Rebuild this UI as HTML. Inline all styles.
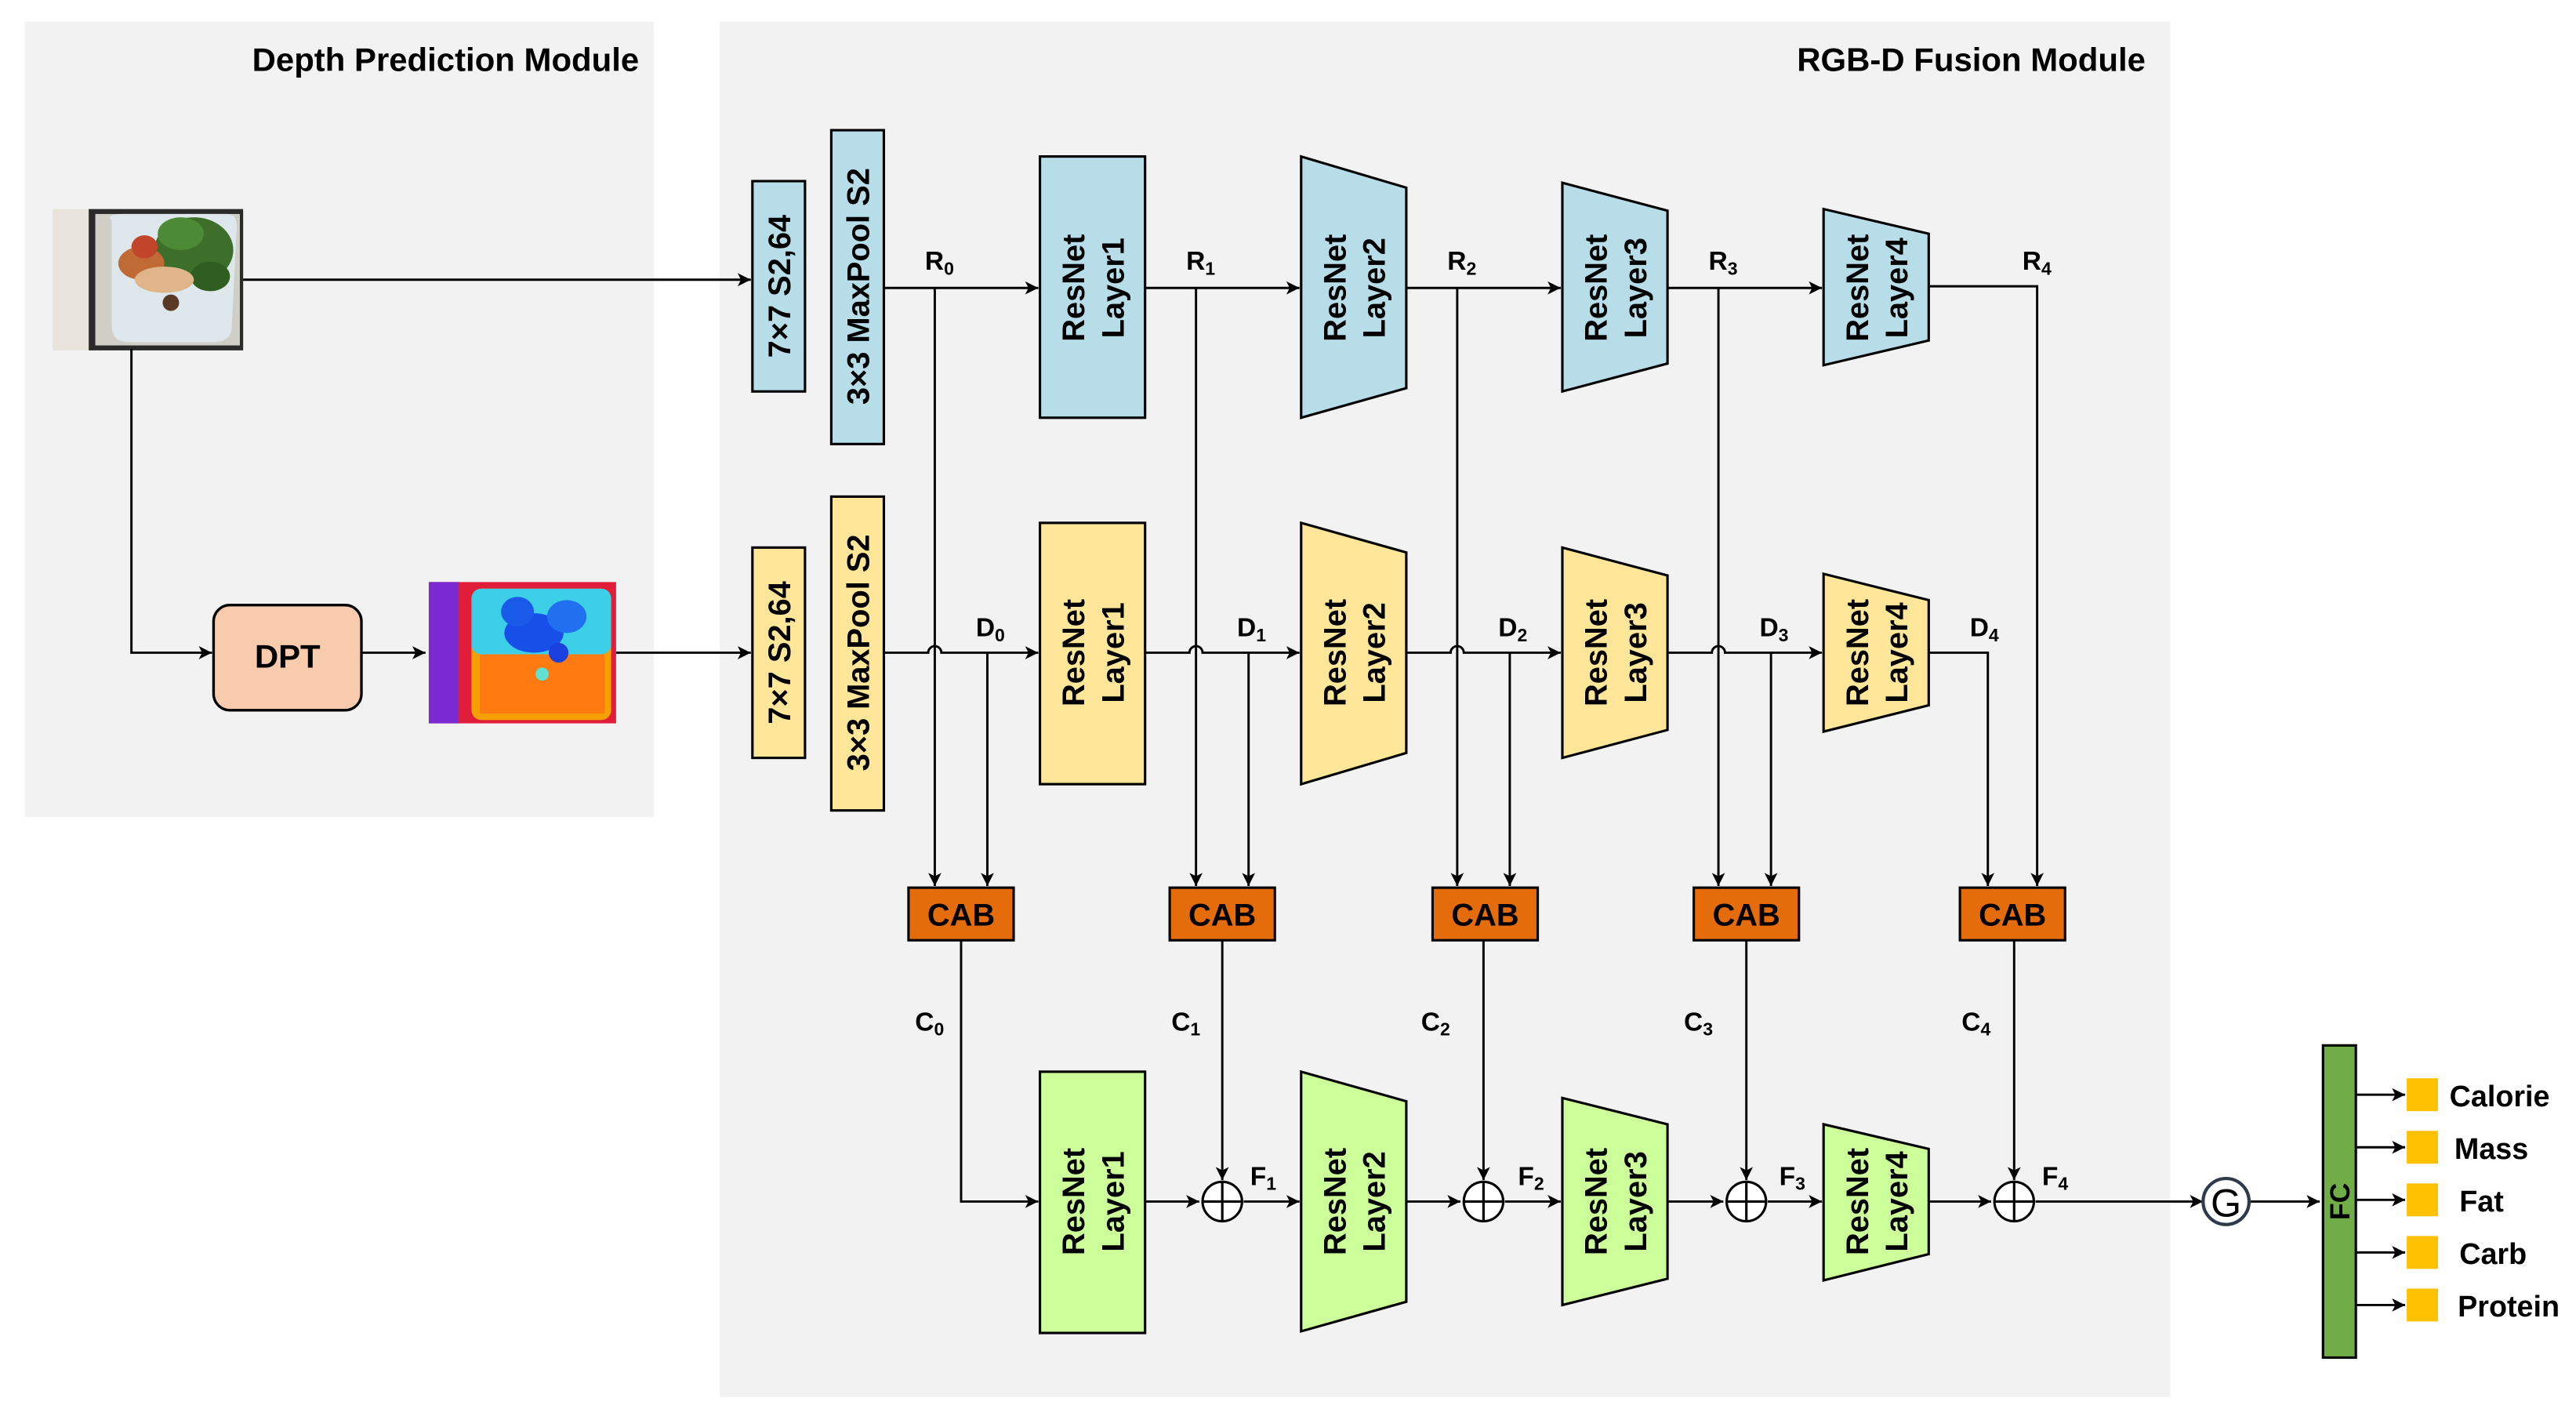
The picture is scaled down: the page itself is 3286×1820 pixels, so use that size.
<!DOCTYPE html>
<html><head><meta charset="utf-8"><style>
html,body{margin:0;padding:0;background:#fff;}
svg{display:block;}
text{font-family:"Liberation Sans","DejaVu Sans",sans-serif;font-weight:bold;fill:#000;}
</style></head><body>
<svg width="3286" height="1820" viewBox="0 0 1568 868" xmlns="http://www.w3.org/2000/svg">
<defs>
<marker id="a" viewBox="0 0 10 10" refX="10" refY="5" markerWidth="8" markerHeight="8" markerUnits="userSpaceOnUse" orient="auto"><path d="M0,0 L10,5 L0,10 L2.5,5 z" fill="#000"/></marker>
<marker id="b" viewBox="0 0 10 10" refX="10" refY="5" markerWidth="10" markerHeight="10" markerUnits="userSpaceOnUse" orient="auto"><path d="M0,0 L10,5 L0,10 L2.5,5 z" fill="#000"/></marker>
</defs>
<rect width="1568" height="868" fill="#fff"/>
<rect x="15" y="13" width="383" height="484" fill="#f2f2f2"/>
<rect x="438" y="13" width="883" height="837" fill="#f2f2f2"/>
<text x="389" y="43" font-size="20" text-anchor="end">Depth Prediction Module</text>
<text x="1306" y="43" font-size="20" text-anchor="end">RGB-D Fusion Module</text>

<!-- food image -->
<g>
<rect x="32" y="127" width="116" height="86" fill="#e8e4dc"/>
<rect x="54" y="127" width="94" height="86" fill="#2a2a2a"/>
<rect x="58" y="130" width="88" height="80" fill="#cfcfc8"/>
<path d="M68,134 Q64,130 75,130 L138,130 Q145,130 144,140 L141,200 Q140,208 130,208 L78,208 Q68,208 68,198 Z" fill="#dde7ec"/>
<ellipse cx="118" cy="152" rx="24" ry="20" fill="#3d6e2a"/>
<ellipse cx="110" cy="142" rx="14" ry="10" fill="#4d8a35"/>
<ellipse cx="128" cy="168" rx="12" ry="9" fill="#2f5e20"/>
<ellipse cx="86" cy="160" rx="14" ry="10" fill="#c06a35"/>
<ellipse cx="100" cy="170" rx="18" ry="8" fill="#e0b58a"/>
<ellipse cx="88" cy="150" rx="8" ry="7" fill="#c0452a"/>
<circle cx="104" cy="184" r="5" fill="#5a3a25"/>
</g>
<!-- depth image -->
<g>
<rect x="261" y="354" width="114" height="86" fill="#e01e3a"/>
<rect x="261" y="354" width="18" height="86" fill="#7a2ad0"/>
<rect x="287" y="358" width="85" height="80" rx="6" fill="#f5a000"/>
<rect x="287" y="358" width="85" height="40" rx="6" fill="#3ecfe8"/>
<rect x="292" y="398" width="76" height="36" fill="#ff7a10"/>
<ellipse cx="325" cy="385" rx="18" ry="12" fill="#1650e8"/>
<ellipse cx="315" cy="372" rx="10" ry="9" fill="#1a5ae8"/>
<ellipse cx="345" cy="375" rx="12" ry="10" fill="#2070f0"/>
<circle cx="340" cy="397" r="6" fill="#1a40e0"/>
<circle cx="330" cy="410" r="4" fill="#60e0d0"/>
</g>

<g stroke="#000" stroke-width="1.4" fill="none">
<!-- left connections -->
<path d="M148,170 H457" marker-end="url(#a)"/>
<path d="M80,212 V397 H129" marker-end="url(#a)"/>
<path d="M220,397 H259" marker-end="url(#a)"/>
<path d="M375,397 H457" marker-end="url(#a)"/>
<!-- R row -->
<path d="M538,175 H632" marker-end="url(#a)"/>
<path d="M697,175 H791" marker-end="url(#a)"/>
<path d="M856,175 H950" marker-end="url(#a)"/>
<path d="M1015,175 H1109" marker-end="url(#a)"/>
<path d="M1174,174 H1240 V539" marker-end="url(#a)"/>
<path d="M569,175 V539" marker-end="url(#a)"/>
<path d="M728,175 V539" marker-end="url(#a)"/>
<path d="M887,175 V539" marker-end="url(#a)"/>
<path d="M1046,175 V539" marker-end="url(#a)"/>
<!-- D row with hops -->
<path d="M538,397 H565 A4,4 0 0 1 573,397 H632" marker-end="url(#a)"/>
<path d="M697,397 H724 A4,4 0 0 1 732,397 H791" marker-end="url(#a)"/>
<path d="M856,397 H883 A4,4 0 0 1 891,397 H950" marker-end="url(#a)"/>
<path d="M1015,397 H1042 A4,4 0 0 1 1050,397 H1109" marker-end="url(#a)"/>
<path d="M1174,397 H1210 V539" marker-end="url(#a)"/>
<path d="M601,397 V539" marker-end="url(#a)"/>
<path d="M760,397 V539" marker-end="url(#a)"/>
<path d="M919,397 V539" marker-end="url(#a)"/>
<path d="M1078,397 V539" marker-end="url(#a)"/>
<!-- bottom row -->
<path d="M585,572 V731 H632" marker-end="url(#a)"/>
<path d="M744,572 V718" marker-end="url(#a)"/>
<path d="M903,572 V718" marker-end="url(#a)"/>
<path d="M1063,572 V718" marker-end="url(#a)"/>
<path d="M1226,572 V718" marker-end="url(#a)"/>
<path d="M697,731 H730" marker-end="url(#a)"/>
<path d="M757,731 H791" marker-end="url(#a)"/>
<path d="M856,731 H889" marker-end="url(#a)"/>
<path d="M916,731 H950" marker-end="url(#a)"/>
<path d="M1015,731 H1049" marker-end="url(#a)"/>
<path d="M1076,731 H1109" marker-end="url(#a)"/>
<path d="M1174,731 H1212" marker-end="url(#a)"/>
<path d="M1239,731 H1341" marker-end="url(#a)"/>
<path d="M1369,731 H1412" marker-end="url(#a)"/>
<path d="M1434,666 H1464" marker-end="url(#a)"/>
<path d="M1434,698 H1464" marker-end="url(#a)"/>
<path d="M1434,730 H1464" marker-end="url(#a)"/>
<path d="M1434,762 H1464" marker-end="url(#a)"/>
<path d="M1434,794 H1464" marker-end="url(#a)"/>
</g>

<!-- DPT -->
<rect x="130" y="368" width="90" height="64" rx="10" fill="#f8cbad" stroke="#000" stroke-width="1.6"/>
<text x="175" y="406" font-size="20" text-anchor="middle">DPT</text>

<g stroke="#000" stroke-width="1.5">
<!-- stem blocks -->
<rect x="458" y="110" width="32" height="128" fill="#b7dde8"/>
<rect x="506" y="79" width="32" height="191" fill="#b7dde8"/>
<rect x="458" y="333" width="32" height="128" fill="#ffe699"/>
<rect x="506" y="302" width="32" height="191" fill="#ffe699"/>
<!-- top row -->
<rect x="633" y="95" width="64" height="159" fill="#b7dde8"/>
<path d="M792,95 L856,114 L856,236 L792,254 Z" fill="#b7dde8"/>
<path d="M951,111 L1015,128 L1015,221 L951,238 Z" fill="#b7dde8"/>
<path d="M1110,127 L1174,142 L1174,207 L1110,222 Z" fill="#b7dde8"/>
<!-- mid row -->
<rect x="633" y="318" width="64" height="159" fill="#ffe699"/>
<path d="M792,318 L856,336 L856,458 L792,477 Z" fill="#ffe699"/>
<path d="M951,333 L1015,350 L1015,444 L951,461 Z" fill="#ffe699"/>
<path d="M1110,349 L1174,365 L1174,429 L1110,445 Z" fill="#ffe699"/>
<!-- bottom row -->
<rect x="633" y="652" width="64" height="159" fill="#ccff99"/>
<path d="M792,652 L856,670 L856,792 L792,810 Z" fill="#ccff99"/>
<path d="M951,668 L1015,684 L1015,778 L951,794 Z" fill="#ccff99"/>
<path d="M1110,684 L1174,699 L1174,763 L1110,779 Z" fill="#ccff99"/>
<!-- CABs -->
<rect x="553" y="540" width="64" height="32" fill="#e46c0a"/>
<rect x="712" y="540" width="64" height="32" fill="#e46c0a"/>
<rect x="872" y="540" width="64" height="32" fill="#e46c0a"/>
<rect x="1031" y="540" width="64" height="32" fill="#e46c0a"/>
<rect x="1193" y="540" width="64" height="32" fill="#e46c0a"/>
<!-- FC -->
<rect x="1414" y="636" width="20" height="190" fill="#70ad47"/>
</g>
<g fill="#ffc000">
<rect x="1465" y="656" width="19" height="20"/>
<rect x="1465" y="688" width="19" height="20"/>
<rect x="1465" y="720" width="19" height="20"/>
<rect x="1465" y="752" width="19" height="20"/>
<rect x="1465" y="784" width="19" height="20"/>
</g>
<!-- oplus -->
<g stroke="#000" stroke-width="1.5" fill="#fff">
<circle cx="744" cy="731" r="12"/><path d="M732,731H756M744,719V743"/>
<circle cx="903" cy="731" r="12"/><path d="M891,731H915M903,719V743"/>
<circle cx="1063" cy="731" r="12"/><path d="M1051,731H1075M1063,719V743"/>
<circle cx="1226" cy="731" r="12"/><path d="M1214,731H1238M1226,719V743"/>
</g>
<circle cx="1355" cy="731" r="14" fill="#fff" stroke="#2f3a4a" stroke-width="2"/>
<text x="1355" y="740" font-size="24" font-weight="normal" style="font-weight:normal" text-anchor="middle">G</text>

<!-- vertical texts -->
<g font-size="19">
<text transform="translate(481,174) rotate(-90)" text-anchor="middle">7×7 S2,64</text>
<text transform="translate(529,174) rotate(-90)" text-anchor="middle">3×3 MaxPool S2</text>
<text transform="translate(481,397) rotate(-90)" text-anchor="middle">7×7 S2,64</text>
<text transform="translate(529,397) rotate(-90)" text-anchor="middle">3×3 MaxPool S2</text>
</g>
<g font-size="19" text-anchor="middle">
<text transform="translate(665,175) rotate(-90)"><tspan x="0" y="-5">ResNet</tspan><tspan x="0" y="19">Layer1</tspan></text>
<text transform="translate(824,175) rotate(-90)"><tspan x="0" y="-5">ResNet</tspan><tspan x="0" y="19">Layer2</tspan></text>
<text transform="translate(983,175) rotate(-90)"><tspan x="0" y="-5">ResNet</tspan><tspan x="0" y="19">Layer3</tspan></text>
<text transform="translate(1142,175) rotate(-90)"><tspan x="0" y="-5">ResNet</tspan><tspan x="0" y="19">Layer4</tspan></text>
<text transform="translate(665,397) rotate(-90)"><tspan x="0" y="-5">ResNet</tspan><tspan x="0" y="19">Layer1</tspan></text>
<text transform="translate(824,397) rotate(-90)"><tspan x="0" y="-5">ResNet</tspan><tspan x="0" y="19">Layer2</tspan></text>
<text transform="translate(983,397) rotate(-90)"><tspan x="0" y="-5">ResNet</tspan><tspan x="0" y="19">Layer3</tspan></text>
<text transform="translate(1142,397) rotate(-90)"><tspan x="0" y="-5">ResNet</tspan><tspan x="0" y="19">Layer4</tspan></text>
<text transform="translate(665,731) rotate(-90)"><tspan x="0" y="-5">ResNet</tspan><tspan x="0" y="19">Layer1</tspan></text>
<text transform="translate(824,731) rotate(-90)"><tspan x="0" y="-5">ResNet</tspan><tspan x="0" y="19">Layer2</tspan></text>
<text transform="translate(983,731) rotate(-90)"><tspan x="0" y="-5">ResNet</tspan><tspan x="0" y="19">Layer3</tspan></text>
<text transform="translate(1142,731) rotate(-90)"><tspan x="0" y="-5">ResNet</tspan><tspan x="0" y="19">Layer4</tspan></text>
<text transform="translate(1430,731) rotate(-90)" font-size="17">FC</text>
</g>
<g font-size="19" text-anchor="middle">
<text x="585" y="563">CAB</text><text x="744" y="563">CAB</text><text x="904" y="563">CAB</text><text x="1063" y="563">CAB</text><text x="1225" y="563">CAB</text>
</g>
<!-- labels -->
<g font-size="16">
<text x="563" y="164">R<tspan font-size="11" dy="3">0</tspan></text>
<text x="722" y="164">R<tspan font-size="11" dy="3">1</tspan></text>
<text x="881" y="164">R<tspan font-size="11" dy="3">2</tspan></text>
<text x="1040" y="164">R<tspan font-size="11" dy="3">3</tspan></text>
<text x="1231" y="164">R<tspan font-size="11" dy="3">4</tspan></text>
<text x="594" y="387">D<tspan font-size="11" dy="3">0</tspan></text>
<text x="753" y="387">D<tspan font-size="11" dy="3">1</tspan></text>
<text x="912" y="387">D<tspan font-size="11" dy="3">2</tspan></text>
<text x="1071" y="387">D<tspan font-size="11" dy="3">3</tspan></text>
<text x="1199" y="387">D<tspan font-size="11" dy="3">4</tspan></text>
<text x="557" y="627">C<tspan font-size="11" dy="3">0</tspan></text>
<text x="713" y="627">C<tspan font-size="11" dy="3">1</tspan></text>
<text x="865" y="627">C<tspan font-size="11" dy="3">2</tspan></text>
<text x="1025" y="627">C<tspan font-size="11" dy="3">3</tspan></text>
<text x="1194" y="627">C<tspan font-size="11" dy="3">4</tspan></text>
<text x="761" y="721">F<tspan font-size="11" dy="3">1</tspan></text>
<text x="924" y="721">F<tspan font-size="11" dy="3">2</tspan></text>
<text x="1083" y="721">F<tspan font-size="11" dy="3">3</tspan></text>
<text x="1243" y="721">F<tspan font-size="11" dy="3">4</tspan></text>
</g>
<g font-size="18">
<text x="1491" y="673">Calorie</text>
<text x="1494" y="705">Mass</text>
<text x="1497" y="737">Fat</text>
<text x="1497" y="769">Carb</text>
<text x="1496" y="801">Protein</text>
</g>
</svg>
</body></html>
